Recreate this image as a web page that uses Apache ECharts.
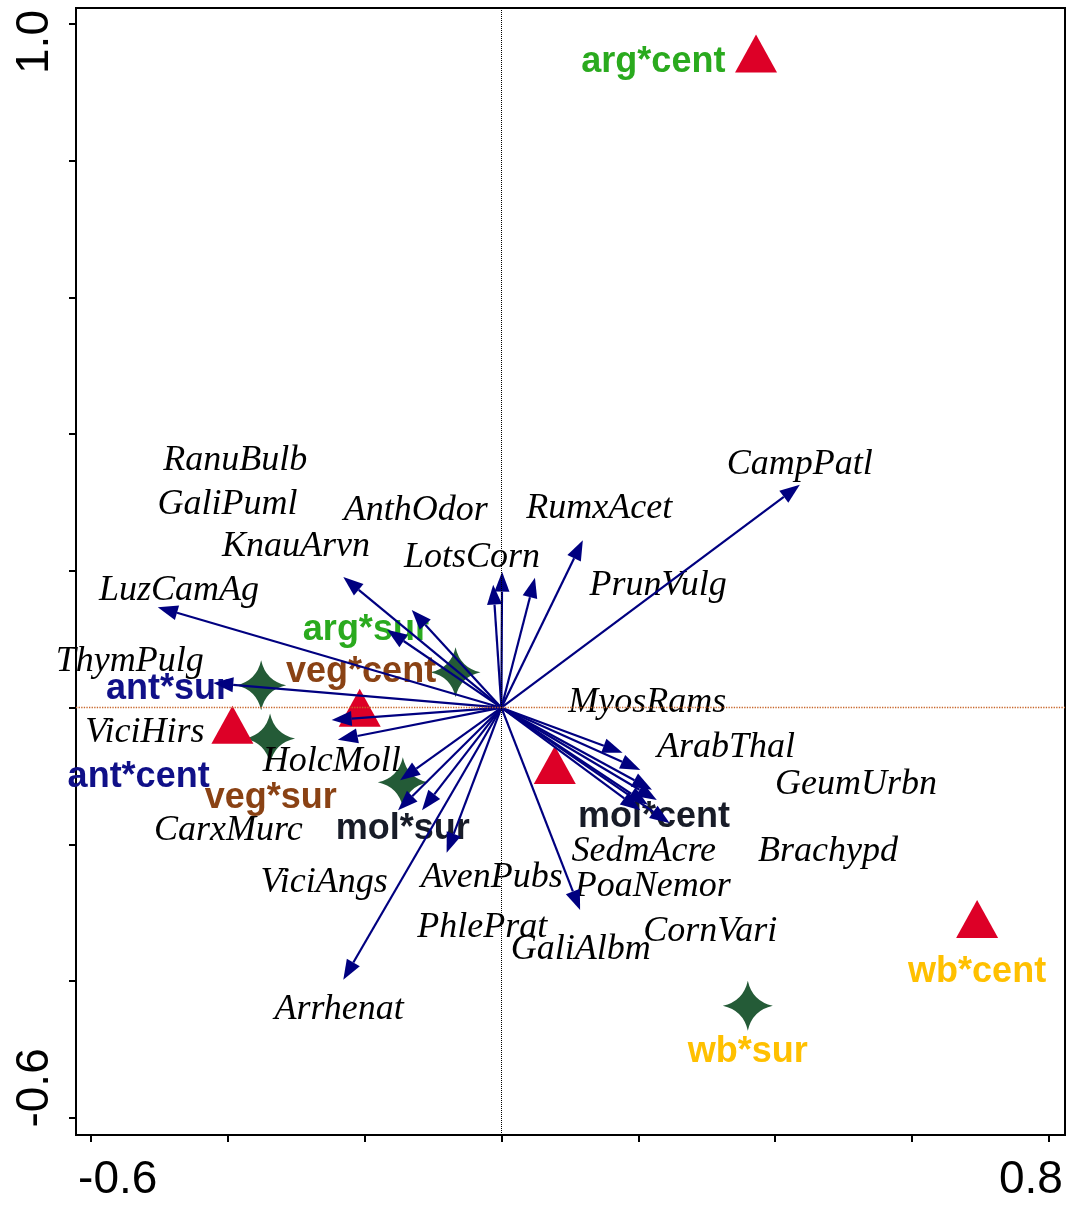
<!DOCTYPE html>
<html>
<head>
<meta charset="utf-8">
<script src="https://cdn.jsdelivr.net/npm/echarts@6/dist/echarts.min.js"></script>
<style>
  html, body { margin: 0; padding: 0; background: #fff; }
  #chart { width: 1069px; height: 1205px; }
</style>
</head>
<body>
<div id="chart"></div>
<script>
// species arrows (tip of each arrow) and where their names sit
const speciesNames = ["CampPatl", "RumxAcet", "PrunVulg", "LotsCorn", "AnthOdor", "KnauArvn", "GaliPuml", "RanuBulb",
  "LuzCamAg", "ThymPulg", "ViciHirs", "HolcMoll", "CarxMurc", "ViciAngs", "AvenPubs", "PhlePrat", "Arrhenat",
  "GaliAlbm", "MyosRams", "ArabThal", "GeumUrbn", "Brachypd", "SedmAcre", "PoaNemor", "CornVari"];
const speciesX = [0.436, 0.119, 0.049, 0.001, -0.012, -0.231, -0.131, -0.167,
  -0.502, -0.421, -0.248, -0.239, -0.148, -0.151, -0.116, -0.080, -0.231,
  0.115, 0.177, 0.203, 0.220, 0.227, 0.214, 0.203, 0.246];
const speciesY = [0.326, 0.245, 0.190, 0.199, 0.180, 0.191, 0.143, 0.114,
  0.147, 0.036, -0.018, -0.047, -0.106, -0.150, -0.150, -0.212, -0.398,
  -0.296, -0.066, -0.091, -0.120, -0.135, -0.142, -0.150, -0.169];
const speciesLabelX = [0.436, 0.143, 0.229, -0.043, -0.125, -0.300, -0.400, -0.389,
  -0.471, -0.543, -0.521, -0.248, -0.399, -0.259, -0.014, -0.028, -0.237,
  0.116, 0.213, 0.328, 0.518, 0.477, 0.208, 0.221, 0.305];
const speciesLabelY = [0.356, 0.291, 0.178, 0.219, 0.289, 0.236, 0.297, 0.361,
  0.172, 0.068, -0.037, -0.079, -0.180, -0.256, -0.248, -0.321, -0.441,
  -0.354, 0.007, -0.059, -0.112, -0.211, -0.210, -0.261, -0.327];

// samples: centroids (triangles) and surroundings (stars)
const sampleNames = ["arg*cent", "ant*cent", "veg*cent", "mol*cent", "wb*cent",
  "ant*sur", "veg*sur", "arg*sur", "mol*sur", "wb*sur"];
const sampleGroup = ["arg", "ant", "veg", "mol", "wb", "ant", "veg", "arg", "mol", "wb"];
const sampleKind = ["cent", "cent", "cent", "cent", "cent", "sur", "sur", "sur", "sur", "sur"];
const sampleX = [0.372, -0.393, -0.207, 0.078, 0.695, -0.351, -0.338, -0.067, -0.144, 0.360];
const sampleY = [0.957, -0.025, 0.000, -0.084, -0.309, 0.033, -0.045, 0.052, -0.109, -0.436];
const sampleLabelX = [0.222, -0.530, -0.205, 0.223, 0.695, -0.487, -0.337, -0.198, -0.144, 0.360];
const sampleLabelY = [0.944, -0.101, 0.052, -0.160, -0.387, 0.027, -0.132, 0.114, -0.177, -0.504];

// axes
const xTicks = [-0.6, -0.4, -0.2, 0, 0.2, 0.4, 0.6, 0.8];
const yTicks = [-0.6, -0.4, -0.2, 0, 0.2, 0.4, 0.6, 0.8, 1.0];
const xTickLabels = [-0.6, 0.8];
const yTickLabels = [-0.6, 1.0];

const groupColor = {
  arg: "#2aaa1e",
  ant: "#101088",
  veg: "#8a4214",
  mol: "#181c28",
  wb: "#ffc000",
};
const starPath = "path://M50,0 Q59,41 100,50 Q59,59 50,100 Q41,59 0,50 Q41,41 50,0 Z";

const chartInstance = echarts.init(document.getElementById("chart"));

const arrowData = speciesNames.map((n, i) => [speciesX[i], speciesY[i]]);
const speciesLabelData = speciesNames.map((n, i) => {
  return { name: n, value: [speciesLabelX[i], speciesLabelY[i]] };
});
const triangleData = [];
const starData = [];
sampleNames.forEach((n, i) => {
  if (sampleKind[i] === "cent") {
    triangleData.push([sampleX[i], sampleY[i]]);
  } else {
    starData.push([sampleX[i], sampleY[i]]);
  }
});
const sampleLabelData = sampleNames.map((n, i) => {
  return {
    name: n,
    value: [sampleLabelX[i], sampleLabelY[i]],
    label: { color: groupColor[sampleGroup[i]] },
  };
});

const initOption = {
  animation: false,
  backgroundColor: "#fff",
  grid: {
    left: 76,
    right: 4,
    top: 8,
    bottom: 70,
    show: true,
    borderColor: "#000",
    borderWidth: 2,
  },
  xAxis: {
    type: "value",
    min: -0.6215,
    max: 0.8234,
    axisLine: { show: true, onZero: false, lineStyle: { color: "#000", width: 2 } },
    axisTick: {
      show: true,
      inside: false,
      length: 7,
      customValues: xTicks,
      lineStyle: { color: "#000", width: 2 },
    },
    axisLabel: {
      customValues: xTickLabels,
      margin: 22,
      formatter: (v) => (v < 0 ? "{l|" + v.toFixed(1) + "}" : "{r|" + v.toFixed(1) + "}"),
      rich: {
        l: { fontSize: 46, fontFamily: "Liberation Sans", color: "#000", padding: [0, 0, 0, 54] },
        r: { fontSize: 46, fontFamily: "Liberation Sans", color: "#000", padding: [0, 36, 0, 0] },
      },
    },
    splitLine: { show: false },
  },
  yAxis: {
    type: "value",
    min: -0.625,
    max: 1.0234,
    axisLine: { show: true, onZero: false, lineStyle: { color: "#000", width: 2 } },
    axisTick: {
      show: true,
      inside: false,
      length: 7,
      customValues: yTicks,
      lineStyle: { color: "#000", width: 2 },
    },
    axisLabel: {
      customValues: yTickLabels,
      rotate: 90,
      margin: 18,
      formatter: (v) => (v < 0 ? "{l|" + v.toFixed(1) + "}" : "{r|" + v.toFixed(1) + "}"),
      rich: {
        l: { fontSize: 46, fontFamily: "Liberation Sans", color: "#000", padding: [0, 0, 0, 60] },
        r: { fontSize: 46, fontFamily: "Liberation Sans", color: "#000", padding: [0, 36, 0, 0] },
      },
    },
    splitLine: { show: false },
  },
  series: [
    {
      name: "surroundings",
      type: "scatter",
      z: 2,
      symbol: starPath,
      symbolSize: [50, 50],
      itemStyle: { color: "#245b37", opacity: 1 },
      data: starData,
    },
    {
      name: "centroids",
      type: "scatter",
      z: 2,
      symbol: "triangle",
      symbolSize: [42, 38],
      itemStyle: { color: "#dd0027", opacity: 1 },
      data: triangleData,
    },
    {
      name: "sampleLabels",
      type: "scatter",
      z: 3,
      symbolSize: 0,
      itemStyle: { opacity: 1 },
      data: sampleLabelData,
      label: {
        show: true,
        position: "inside",
        formatter: "{b}",
        fontFamily: "Liberation Sans",
        fontWeight: "bold",
        fontSize: 36,
      },
    },
    {
      name: "speciesLabels",
      type: "scatter",
      z: 4,
      symbolSize: 0,
      itemStyle: { opacity: 1 },
      data: speciesLabelData,
      label: {
        show: true,
        position: "inside",
        formatter: "{b}",
        color: "#000",
        fontFamily: "Liberation Serif",
        fontStyle: "italic",
        fontSize: 36,
      },
    },
    {
      name: "species",
      type: "custom",
      z: 5,
      data: arrowData,
      renderItem(params, api) {
        const p0 = api.coord([0, 0]);
        const p1 = api.coord([api.value(0), api.value(1)]);
        const ang = Math.atan2(p1[1] - p0[1], p1[0] - p0[0]);
        const len = 20;
        const half = 7.5;
        const bx = p1[0] - len * Math.cos(ang);
        const by = p1[1] - len * Math.sin(ang);
        const a = [bx + half * Math.sin(ang), by - half * Math.cos(ang)];
        const b = [bx - half * Math.sin(ang), by + half * Math.cos(ang)];
        return {
          type: "group",
          children: [
            {
              type: "line",
              shape: { x1: p0[0], y1: p0[1], x2: bx, y2: by },
              style: { stroke: "#000080", lineWidth: 2.2 },
            },
            {
              type: "polygon",
              shape: { points: [p1, a, b] },
              style: { fill: "#000080" },
            },
          ],
        };
      },
    },
    {
      // zero reference lines
      name: "zero",
      type: "scatter",
      z: 6,
      data: [],
      markLine: {
        silent: true,
        symbol: "none",
        label: { show: false },
        z: 6,
        data: [
          { xAxis: 0, lineStyle: { color: "#000", type: "dotted", width: 1 } },
          { yAxis: 0, lineStyle: { color: "#c8662a", type: "dotted", width: 1.3 } },
        ],
      },
    },
  ],
};
chartInstance.setOption(initOption);
</script>
</body>
</html>
